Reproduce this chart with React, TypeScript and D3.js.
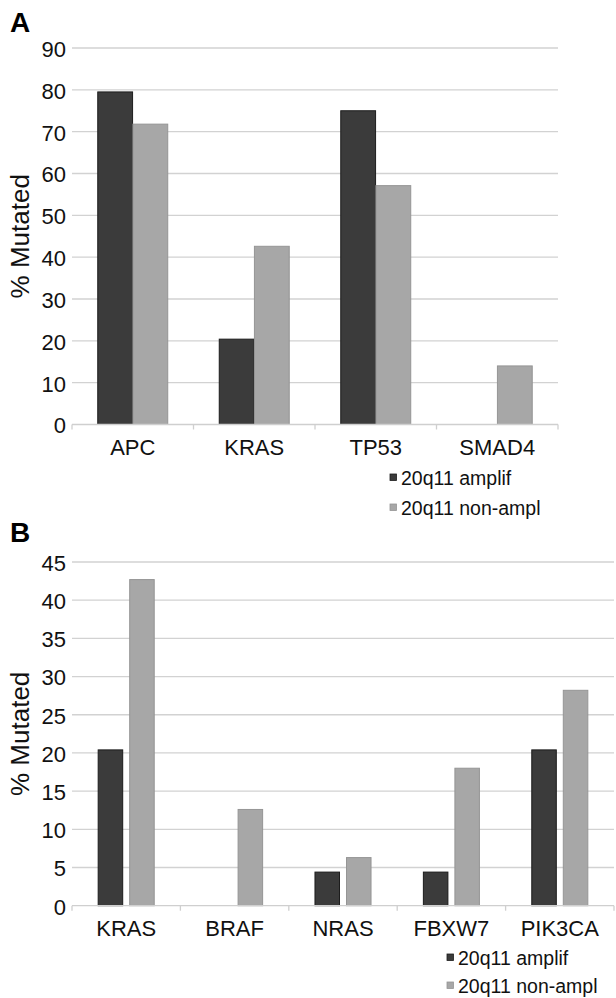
import * as d3 from 'd3'

const seriesNames = ['20q11 amplif', '20q11 non-ampl']
const seriesFill = ['#3b3b3b', '#a7a7a7']
const seriesStroke = ['#1c1c1c', '#959595']

const genesA = ['APC', 'KRAS', 'TP53', 'SMAD4']
const amplifA = [79.5, 20.4, 75, 0]
const nonAmplA = [71.8, 42.6, 57.1, 14]
const ticksA = [0, 10, 20, 30, 40, 50, 60, 70, 80, 90]

const genesB = ['KRAS', 'BRAF', 'NRAS', 'FBXW7', 'PIK3CA']
const amplifB = [20.4, 0, 4.4, 4.4, 20.4]
const nonAmplB = [42.7, 12.6, 6.3, 18, 28.2]
const ticksB = [0, 5, 10, 15, 20, 25, 30, 35, 40, 45]

const FONT = '"Liberation Sans", Arial, Helvetica, sans-serif'

interface PanelProps {
  letter: string
  letterY: number
  genes: string[]
  values: number[][]
  ticks: number[]
  top: number
  bottom: number
  left: number
  right: number
  groupFrac: number // share of a band taken by the bar pair
  innerPad: number
  legendX: number
  legendY: number
  legendStep: number
}

function Panel(p: PanelProps) {
  const yMax = p.ticks[p.ticks.length - 1]
  const y = d3.scaleLinear().domain([0, yMax]).range([p.bottom, p.top])
  const x0 = d3.scaleBand().domain(p.genes).range([p.left, p.right])
  const groupW = x0.bandwidth() * p.groupFrac
  const x1 = d3.scaleBand().domain(seriesNames).range([0, groupW]).paddingInner(p.innerPad)
  const bounds = p.genes.map((g) => x0(g)!).concat([p.right])
  const midY = (p.top + p.bottom) / 2

  return (
    <g>
      <text x={10} y={p.letterY} fontSize={28} fontWeight="bold" fontFamily={FONT} fill="#000">
        {p.letter}
      </text>

      {/* gridlines */}
      {p.ticks.filter((t) => t > 0).map((t) => (
        <line key={t} x1={p.left} x2={p.right} y1={y(t)} y2={y(t)} stroke="#d2d2d2" strokeWidth={1.3} />
      ))}

      {/* tick labels */}
      {p.ticks.map((t) => (
        <text key={t} x={66} y={y(t) + 1} dy="0.36em" textAnchor="end" fontSize={22} fontFamily={FONT} fill="#111">
          {t}
        </text>
      ))}

      <text
        transform={`translate(29,${midY}) rotate(-90)`}
        textAnchor="middle"
        fontSize={26}
        fontFamily={FONT}
        fill="#111"
      >
        % Mutated
      </text>

      {/* bars */}
      {p.genes.map((g, gi) => {
        const gx = x0(g)! + (x0.bandwidth() - groupW) / 2
        return seriesNames.map((s, si) => {
          const v = p.values[si][gi]
          if (!v) return null
          return (
            <rect
              key={g + s}
              x={gx + x1(s)!}
              y={y(v)}
              width={x1.bandwidth()}
              height={y(0) - y(v)}
              fill={seriesFill[si]}
              stroke={seriesStroke[si]}
              strokeWidth={1}
            />
          )
        })
      })}

      {/* x axis */}
      <line x1={p.left} x2={p.right} y1={y(0)} y2={y(0)} stroke="#cfcfcf" strokeWidth={1.3} />
      {bounds.map((bx, i) => (
        <line key={i} x1={bx} x2={bx} y1={y(0)} y2={y(0) + 5} stroke="#cfcfcf" strokeWidth={1.3} />
      ))}
      {p.genes.map((g) => (
        <text
          key={g}
          x={x0(g)! + x0.bandwidth() / 2}
          y={y(0) + 30}
          textAnchor="middle"
          fontSize={22}
          fontFamily={FONT}
          fill="#111"
        >
          {g}
        </text>
      ))}

      {/* legend */}
      {seriesNames.map((s, si) => (
        <g key={s} transform={`translate(${p.legendX},${p.legendY + si * p.legendStep})`}>
          <rect x={-11} y={-11} width={6.5} height={6.5} fill={seriesFill[si]} stroke={seriesStroke[si]} strokeWidth={0.8} />
          <text x={0} y={0} fontSize={19.5} fontFamily={FONT} fill="#111">
            {s}
          </text>
        </g>
      ))}
    </g>
  )
}

export default function App() {
  return (
    <svg
      width={616}
      height={998}
      style={{ position: 'absolute', left: 0, top: 0, background: '#fff' }}
    >
      <rect width={616} height={998} fill="#fff" />
      <Panel
        letter="A"
        letterY={32}
        genes={genesA}
        values={[amplifA, nonAmplA]}
        ticks={ticksA}
        top={48}
        bottom={424.5}
        left={72}
        right={558}
        groupFrac={0.576}
        innerPad={0.01}
        legendX={401}
        legendY={485}
        legendStep={30}
      />
      <Panel
        letter="B"
        letterY={542}
        genes={genesB}
        values={[amplifB, nonAmplB]}
        ticks={ticksB}
        top={562}
        bottom={905.7}
        left={72}
        right={614}
        groupFrac={0.517}
        innerPad={0.222}
        legendX={458}
        legendY={965}
        legendStep={28}
      />
    </svg>
  )
}
